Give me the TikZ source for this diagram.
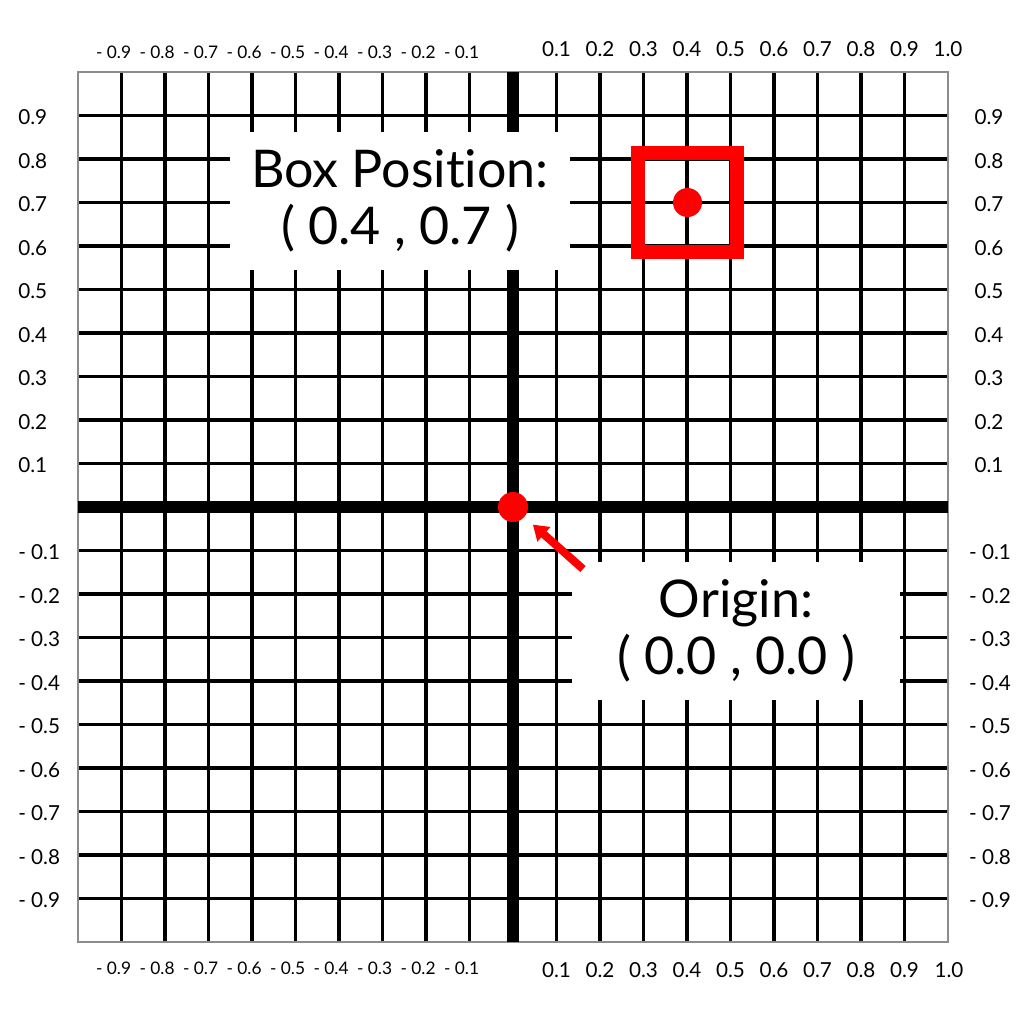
\documentclass[tikz,border=0pt]{standalone}
\usepackage{fontspec}
\setmainfont{Lato}[Ligatures=NoCommon]
\usetikzlibrary{arrows.meta}
\begin{document}
\begin{tikzpicture}[x=0.75pt,y=-0.75pt,
  gridline/.style={line width=2.5pt,black},
  axisline/.style={line width=8.6pt,black},
  framebox/.style={line width=0.8pt,black!45},
  poslab/.style={inner sep=0pt,font=\fontsize{15.5}{18}\selectfont},
  neglab/.style={inner sep=0pt,font=\fontsize{13}{15}\selectfont},
  labelbox/.style={fill=white,inner sep=0pt,align=center,font=\fontsize{39}{43}\selectfont},
  reddot/.style={circle,fill=red,inner sep=0pt},
  redsquare/.style={draw=red,line width=10.5pt,inner sep=0pt,minimum size=74.25pt},
  redarrow/.style={red,line width=6pt,-{Triangle[length=11pt,width=14pt]}}]
\useasboundingbox (0,0) rectangle (1024,1024);
\fill[white] (0,0) rectangle (1024,1024);
% grid
\foreach \i in {-9,...,9}{
  \draw[gridline] ({513+43.5*\i},72) -- ({513+43.5*\i},942);
  \draw[gridline] (78,{507+43.5*\i}) -- (948,{507+43.5*\i});
}
\draw[framebox] (78,72) rectangle (948,942);
% axes
\draw[axisline] (513,72) -- (513,942);
\draw[axisline] (78,507) -- (948,507);
% top and bottom labels
\foreach \k in {1,...,9}{
  \node[poslab] (tp\k) at ({513+43.5*\k},49) {0.\k};
  \node[poslab] (bp\k) at ({513+43.5*\k},970) {0.\k};
  \node[neglab] (tn\k) at ({510.5-43.5*\k},52.5) {\llap{-\ }0.\k};
  \node[neglab] (bn\k) at ({510.5-43.5*\k},968.5) {\llap{-\ }0.\k};
}
\node[poslab] (tp10) at (948,49) {1.0};
\node[poslab] (bp10) at (949,970) {1.0};
% side labels
\foreach \k in {1,...,9}{
  \node[poslab,anchor=west] (lp\k) at (18,{509-43.5*\k}) {0.\k};
  \node[poslab,anchor=west] (ln\k) at (18,{509+43.5*\k}) {-\ 0.\k};
  \node[poslab] (rp\k) at (989,{509-43.5*\k}) {0.\k};
  \node[poslab] (rn\k) at (990,{509+43.5*\k}) {-\ 0.\k};
}
% label boxes
\node[labelbox,minimum width=255pt,minimum height=103.5pt] (boxlab) at (400,201) {Box Position:\\( 0.4 , 0.7 )};
\node[labelbox,minimum width=246pt,minimum height=103.5pt] (originlab) at (736,631) {Origin:\\( 0.0 , 0.0 )};
% red marks
\node[redsquare] (redbox) at (687.5,202.5) {};
\node[reddot,minimum size=21.75pt] (boxdot) at (687.5,202.5) {};
\node[reddot,minimum size=22.5pt] (origindot) at (513,507) {};
\coordinate (arrowtail) at (583,569);
\draw[redarrow,shorten >=8.5pt] (arrowtail) -- (origindot);
\end{tikzpicture}
\end{document}
